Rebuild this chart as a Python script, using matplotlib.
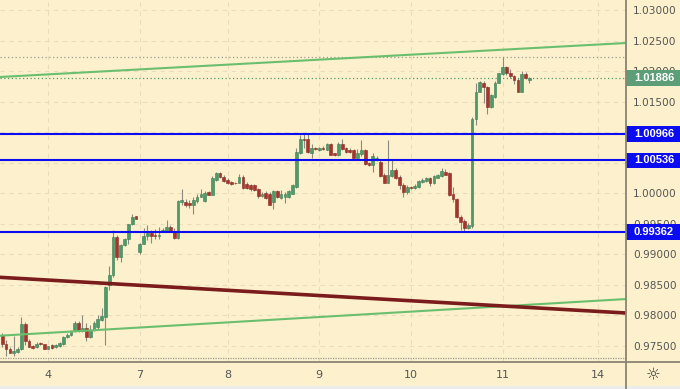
import matplotlib

matplotlib.use("Agg")
import matplotlib.pyplot as plt
import matplotlib.transforms as mtransforms
from matplotlib.patches import Rectangle
from matplotlib.lines import Line2D
import numpy as np

# hourly candles, one row per bar (open, high, low, close)
opens = [
    0.9767, 0.9753, 0.9745, 0.9738, 0.9740, 0.9744, 0.9786, 0.9758, 0.9749, 0.9748,
    0.9754, 0.9752, 0.9745, 0.9751, 0.9747, 0.9749, 0.9752, 0.9764, 0.9767, 0.9773,
    0.9787, 0.9773, 0.9779, 0.9764, 0.9775, 0.9780, 0.9792, 0.9797, 0.9849, 0.9865,
    0.9928, 0.9895, 0.9914, 0.9924, 0.9949, 0.9962, 0.9904, 0.9917, 0.9929, 0.9934,
    0.9932, 0.9929, 0.9937, 0.9938, 0.9945, 0.9938, 0.9927, 0.9985, 0.9986, 0.9983,
    0.9980, 0.9987, 0.9994, 0.9987, 1.0002, 0.9997, 1.0022, 1.0033, 1.0027, 1.0021,
    1.0018, 1.0017, 1.0017, 1.0027, 1.0015, 1.0013, 1.0013, 1.0006, 0.9995, 1.0000,
    0.9999, 0.9986, 1.0003, 0.9992, 0.9994, 0.9994, 0.9999, 1.0010, 1.0066, 1.0089,
    1.0088, 1.0066, 1.0073, 1.0071, 1.0073, 1.0071, 1.0080, 1.0065, 1.0062, 1.0081,
    1.0073, 1.0070, 1.0070, 1.0058, 1.0064, 1.0070, 1.0049, 1.0046, 1.0054, 1.0051,
    1.0030, 1.0017, 1.0028, 1.0037, 1.0027, 1.0013, 1.0002, 1.0010, 1.0008, 1.0010,
    1.0018, 1.0019, 1.0025, 1.0016, 1.0025, 1.0028, 1.0035, 1.0032, 0.9998, 0.9991,
    0.9961, 0.9954, 0.9943, 0.9946, 1.0122, 1.0166, 1.0181, 1.0173, 1.0141, 1.0158,
    1.0181, 1.0195, 1.0207, 1.0196, 1.0192, 1.0185, 1.0166, 1.0195, 1.0185,
]
highs = [
    0.9770, 0.9759, 0.9748, 0.9765, 0.9748, 0.9796, 0.9789, 0.9760, 0.9751, 0.9756,
    0.9756, 0.9753, 0.9750, 0.9752, 0.9752, 0.9756, 0.9765, 0.9770, 0.9776, 0.9790,
    0.9790, 0.9800, 0.9787, 0.9783, 0.9790, 0.9800, 0.9812, 0.9848, 0.9880, 0.9939,
    0.9931, 0.9917, 0.9926, 0.9950, 0.9966, 0.9963, 0.9918, 0.9942, 0.9947, 0.9939,
    0.9941, 0.9945, 0.9942, 0.9956, 0.9947, 0.9942, 0.9988, 1.0007, 0.9990, 0.9988,
    0.9994, 0.9999, 1.0006, 1.0004, 1.0004, 1.0028, 1.0035, 1.0035, 1.0029, 1.0024,
    1.0020, 1.0018, 1.0031, 1.0029, 1.0018, 1.0015, 1.0015, 1.0009, 1.0001, 1.0003,
    1.0002, 1.0005, 1.0005, 1.0005, 1.0002, 1.0005, 1.0014, 1.0073, 1.0095, 1.0096,
    1.0096, 1.0081, 1.0075, 1.0076, 1.0077, 1.0082, 1.0082, 1.0066, 1.0084, 1.0088,
    1.0075, 1.0073, 1.0072, 1.0072, 1.0087, 1.0072, 1.0051, 1.0065, 1.0060, 1.0054,
    1.0032, 1.0087, 1.0054, 1.0041, 1.0029, 1.0016, 1.0013, 1.0012, 1.0014, 1.0021,
    1.0025, 1.0027, 1.0027, 1.0030, 1.0031, 1.0041, 1.0040, 1.0034, 1.0010, 0.9992,
    0.9964, 0.9957, 0.9951, 1.0124, 1.0180, 1.0184, 1.0183, 1.0176, 1.0162, 1.0183,
    1.0197, 1.0223, 1.0209, 1.0203, 1.0194, 1.0188, 1.0200, 1.0199, 1.0190,
]
lows = [
    0.9748, 0.9733, 0.9737, 0.9733, 0.9738, 0.9742, 0.9751, 0.9747, 0.9745, 0.9746,
    0.9751, 0.9744, 0.9744, 0.9745, 0.9746, 0.9748, 0.9751, 0.9762, 0.9766, 0.9772,
    0.9772, 0.9772, 0.9758, 0.9763, 0.9774, 0.9776, 0.9790, 0.9751, 0.9841, 0.9863,
    0.9890, 0.9887, 0.9913, 0.9916, 0.9947, 0.9957, 0.9900, 0.9916, 0.9923, 0.9918,
    0.9925, 0.9925, 0.9936, 0.9936, 0.9936, 0.9925, 0.9925, 0.9981, 0.9977, 0.9975,
    0.9965, 0.9984, 0.9993, 0.9985, 0.9996, 0.9996, 1.0020, 1.0024, 1.0018, 1.0014,
    1.0013, 1.0015, 1.0016, 1.0006, 1.0006, 1.0004, 1.0003, 0.9992, 0.9993, 0.9990,
    0.9980, 0.9974, 0.9992, 0.9990, 0.9984, 0.9992, 0.9998, 1.0009, 1.0064, 1.0073,
    1.0065, 1.0057, 1.0071, 1.0069, 1.0070, 1.0070, 1.0062, 1.0060, 1.0061, 1.0070,
    1.0066, 1.0065, 1.0057, 1.0057, 1.0061, 1.0046, 1.0044, 1.0034, 1.0052, 1.0026,
    1.0016, 1.0016, 1.0026, 1.0023, 1.0007, 0.9994, 0.9999, 1.0006, 1.0006, 1.0009,
    1.0016, 1.0018, 1.0012, 1.0014, 1.0024, 1.0027, 1.0029, 0.9995, 0.9986, 0.9959,
    0.9939, 0.9938, 0.9941, 0.9943, 1.0111, 1.0165, 1.0147, 1.0129, 1.0139, 1.0156,
    1.0180, 1.0194, 1.0194, 1.0189, 1.0178, 1.0165, 1.0165, 1.0187, 1.0180,
]
closes = [
    0.9753, 0.9745, 0.9738, 0.9741, 0.9744, 0.9786, 0.9758, 0.9748, 0.9746, 0.9753,
    0.9752, 0.9745, 0.9749, 0.9746, 0.9751, 0.9754, 0.9764, 0.9768, 0.9773, 0.9787,
    0.9773, 0.9779, 0.9764, 0.9775, 0.9787, 0.9794, 0.9799, 0.9846, 0.9865, 0.9928,
    0.9895, 0.9914, 0.9924, 0.9949, 0.9961, 0.9958, 0.9917, 0.9929, 0.9934, 0.9929,
    0.9929, 0.9932, 0.9940, 0.9945, 0.9938, 0.9927, 0.9987, 0.9988, 0.9980, 0.9981,
    0.9989, 0.9994, 0.9999, 1.0000, 0.9997, 1.0024, 1.0032, 1.0027, 1.0019, 1.0016,
    1.0015, 1.0016, 1.0027, 1.0008, 1.0008, 1.0006, 1.0005, 0.9995, 0.9999, 0.9992,
    0.9981, 1.0003, 0.9994, 0.9999, 0.9999, 1.0003, 1.0013, 1.0067, 1.0088, 1.0087,
    1.0067, 1.0074, 1.0072, 1.0073, 1.0072, 1.0080, 1.0063, 1.0062, 1.0081, 1.0072,
    1.0068, 1.0068, 1.0058, 1.0065, 1.0070, 1.0047, 1.0046, 1.0060, 1.0057, 1.0028,
    1.0017, 1.0029, 1.0037, 1.0025, 1.0013, 1.0002, 1.0010, 1.0008, 1.0012, 1.0019,
    1.0022, 1.0025, 1.0016, 1.0028, 1.0029, 1.0036, 1.0030, 0.9997, 0.9990, 0.9961,
    0.9953, 0.9943, 0.9948, 1.0122, 1.0166, 1.0182, 1.0173, 1.0141, 1.0160, 1.0181,
    1.0196, 1.0207, 1.0196, 1.0191, 1.0185, 1.0166, 1.0195, 1.0188, 1.01886,
]

day_labels = ["4", "7", "8", "9", "10", "11", "14"]
day_bars = [12, 36, 59, 83, 107, 131, 156]

levels = [1.00966, 1.00536, 0.99362]
last_price = 1.01886
session_high = 1.02225
session_low = 0.97288

# trend lines: (bar_start, price_start, bar_end, price_end)
upper_channel = (-0.6, 1.01902, 163.3, 1.02459)
lower_channel = (-0.6, 0.97661, 163.3, 0.98262)
falling_line = (-0.6, 0.98618, 163.3, 0.98033)

price_ticks = [0.975, 0.980, 0.985, 0.990, 0.995, 1.000, 1.005, 1.010, 1.015, 1.020, 1.025, 1.030]

BG = "#fdf1cd"
GRID = "#e8dcbc"
UP = "#4f9a6a"
UP_EDGE = "#3c7d55"
DOWN = "#a8342c"
DOWN_EDGE = "#862821"
WICK = "#8a8a80"
BLUE = "#0c0cf0"
TXT = "#555555"

fig = plt.figure(figsize=(6.8, 3.89), dpi=100, facecolor=BG)
ax = fig.add_axes([0, 27 / 389, 626 / 680, 362 / 389])
ax.set_facecolor(BG)
ax.set_xlim(-0.6, 163.3)
ax.set_ylim(0.97230, 1.03164)

for p in price_ticks:
    ax.axhline(p, color=GRID, lw=0.8, ls=(0, (4, 4)), zorder=0)
for b in day_bars:
    ax.axvline(b, color=GRID, lw=0.8, ls=(0, (4, 4)), zorder=0)

idx = np.arange(len(opens))
o = np.array(opens)
h = np.array(highs)
l = np.array(lows)
c = np.array(closes)
up = c >= o

ax.vlines(idx, l, h, color=WICK, lw=0.8, zorder=3)
bottoms = np.minimum(o, c)
heights = np.maximum(np.abs(c - o), 0.00008)
ax.bar(idx[up], heights[up], bottom=bottoms[up], width=0.72,
       color=UP, edgecolor=UP_EDGE, lw=0.4, zorder=4)
ax.bar(idx[~up], heights[~up], bottom=bottoms[~up], width=0.72,
       color=DOWN, edgecolor=DOWN_EDGE, lw=0.4, zorder=4)

ax.axhline(session_high, color="#9a9a90", lw=0.9, ls=(0, (1, 2)), zorder=2)
ax.axhline(session_low, color="#9a9a90", lw=0.9, ls=(0, (1, 1)), zorder=2)
ax.axhline(last_price, color="#4f9a6a", lw=0.9, ls=(0, (1, 2)), zorder=2)

for x0, y0, x1, y1 in (upper_channel, lower_channel):
    ax.plot([x0, x1], [y0, y1], color="#6abf6e", lw=1.5, zorder=5)
x0, y0, x1, y1 = falling_line
ax.plot([x0, x1], [y0, y1], color="#7a1c1c", lw=2.6, zorder=5)

for p in levels:
    ax.axhline(p, color=BLUE, lw=1.5, zorder=5)

for s in ax.spines.values():
    s.set_visible(False)
ax.yaxis.tick_right()
ax.set_yticks(price_ticks)
ax.set_yticklabels([f"{p:.5f}" for p in price_ticks])
ax.set_xticks(day_bars)
ax.set_xticklabels(day_labels)
ax.tick_params(axis="y", length=0, pad=5, labelsize=7.6, labelcolor=TXT)
ax.tick_params(axis="x", length=0, pad=6, labelsize=8, labelcolor=TXT)

# price badges on the right scale
trans = mtransforms.blended_transform_factory(ax.transAxes, ax.transData)
half = 0.00125
for p, col in [(last_price, "#5c9e78")] + [(lv, BLUE) for lv in levels]:
    ax.add_patch(Rectangle((1.0, p - half), 54 / 626, 2 * half, transform=trans,
                           facecolor=col, edgecolor="none", clip_on=False, zorder=10))
    ax.text(1.0 + 8 / 626, p, f"{p:.5f}", transform=trans, color="white",
            fontsize=8, fontweight="bold", family="Liberation Sans",
            va="center", ha="left", zorder=11, clip_on=False)

fig.add_artist(Line2D([626 / 680, 626 / 680], [0, 1], color="#8a8472", lw=1.3))
fig.add_artist(Line2D([0, 1], [27 / 389, 27 / 389], color="#8a8472", lw=1.3))
fig.add_artist(Rectangle((0, 0), 1, 3 / 389, facecolor="#ececec", edgecolor="none"))
fig.text(653 / 680, 1 - 375 / 389, "\u263c", fontsize=12, color="#444444", ha="center", va="center")

fig.savefig("out.png", dpi=100, facecolor=BG)
